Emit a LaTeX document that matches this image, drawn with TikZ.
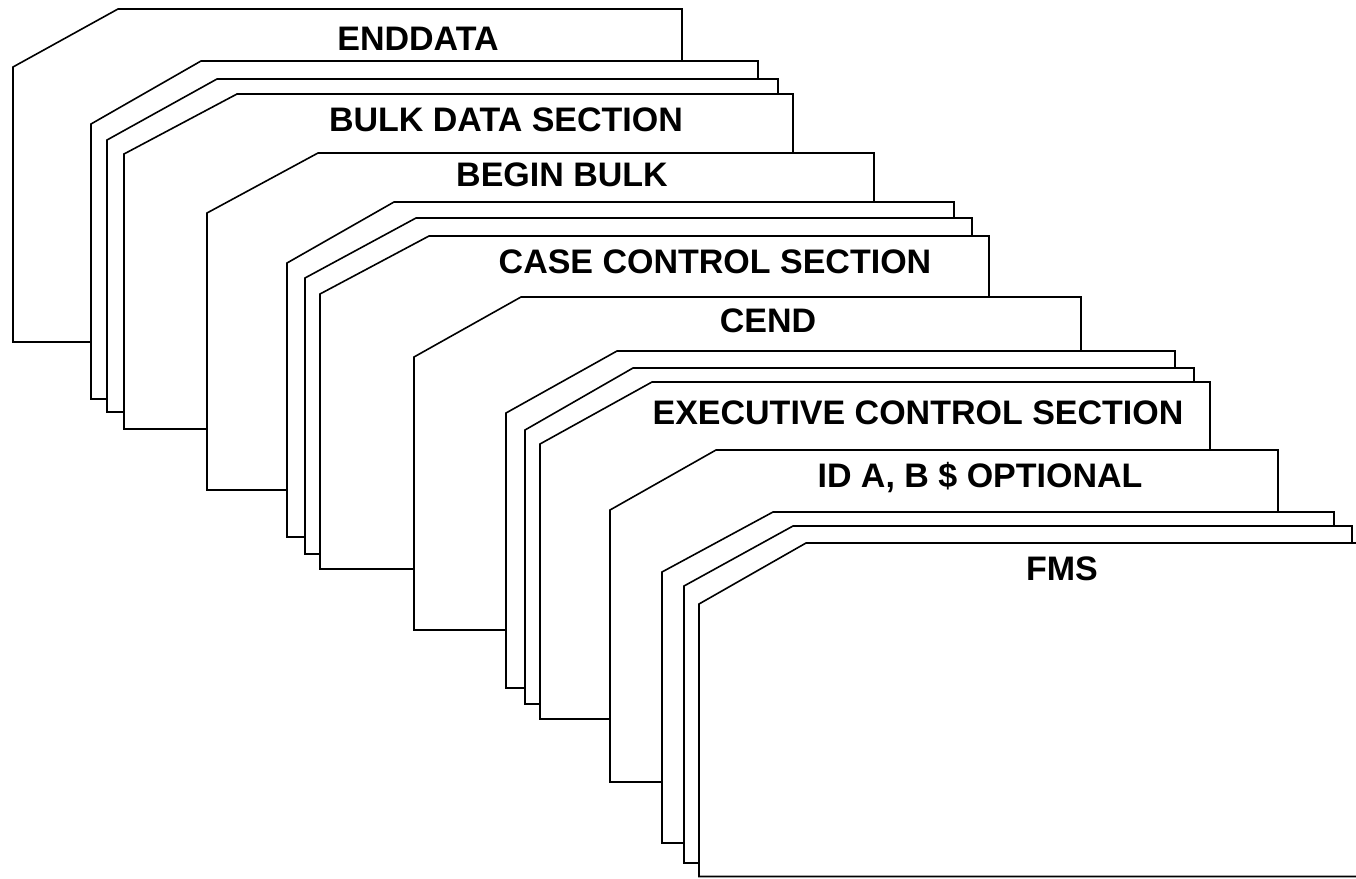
\documentclass[tikz,border=0pt]{standalone}
\usepackage{fontspec}
\setmainfont{Liberation Sans}
\begin{document}
\begin{tikzpicture}[x=1pt,y=-1pt,
  cardshape/.style={draw=black,fill=white,line width=1.6pt,line join=miter},
  cardlabel/.style={font=\fontsize{34}{40}\selectfont\bfseries,inner sep=0pt,anchor=center}]
\useasboundingbox (0,0) rectangle (1356,878);
\clip (0,0) rectangle (1356,878);
\newcommand\tabcard[6]{\path[cardshape] (#1,#6) -- (#1,#2) -- (#3,#4) -- (#5,#4) -- (#5,#6) -- cycle;}
% L, corner y, tab x, top y, right x, bottom y
\tabcard{13}{67}{118}{9}{682}{342}
\tabcard{91}{124}{201}{61}{758}{399}
\tabcard{107}{140}{217}{79}{778}{412}
\tabcard{124}{154}{237}{94}{793}{429}
\tabcard{207}{213}{318}{153}{874}{490}
\tabcard{287}{263}{394}{202}{954}{537}
\tabcard{305}{278}{416}{218}{972}{554}
\tabcard{320}{294}{429}{236}{989}{569}
\tabcard{414}{357}{521}{297}{1081}{630}
\tabcard{506}{413}{617}{351}{1175}{688}
\tabcard{525}{430}{633}{368}{1194}{704}
\tabcard{540}{444}{652}{382}{1210}{719}
\tabcard{610}{510}{716}{450}{1278}{782}
\tabcard{662}{572}{773}{512}{1334}{843}
\tabcard{684}{586}{793}{526}{1352}{863}
\tabcard{699}{604}{806}{543}{1400}{876.5}
\node[cardlabel] (enddata) at (418,39) {ENDDATA};
\node[cardlabel] (bulkdata) at (506,120) {BULK DATA SECTION};
\node[cardlabel] (beginbulk) at (562,175) {BEGIN BULK};
\node[cardlabel] (casecontrol) at (715,262) {CASE CONTROL SECTION};
\node[cardlabel] (cend) at (768,321) {CEND};
\node[cardlabel] (execcontrol) at (918,413) {EXECUTIVE CONTROL SECTION};
\node[cardlabel] (idline) at (980,478) {ID A, B \$ OPTIONAL};
\node[cardlabel] (fms) at (1062,569) {FMS};
\end{tikzpicture}
\end{document}
